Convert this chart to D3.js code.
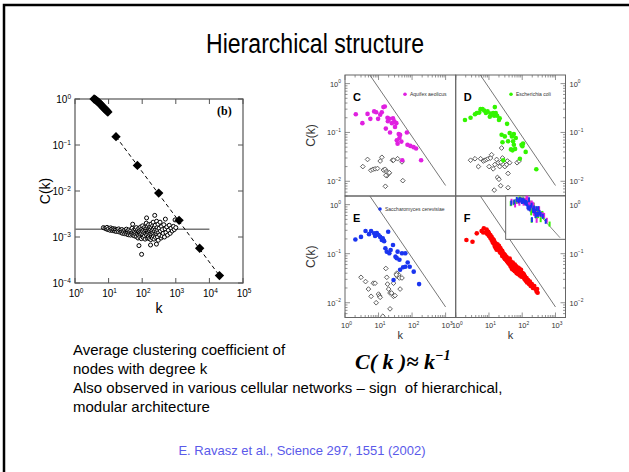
<!DOCTYPE html>
<html>
<head>
<meta charset="utf-8">
<script src="https://cdn.jsdelivr.net/npm/d3@7"></script>
<style>
  html, body { margin: 0; padding: 0; background: #fff; }
  svg { display: block; font-family: 'Liberation Sans', Arial, sans-serif; }
</style>
</head>
<body>
<div class="container"></div>
<script>
// ---- Data ----
const titleText = 'Hierarchical structure';
const bodyLines = [
  'Average clustering coefficient of',
  'nodes with degree k',
  'Also observed in various cellular networks \u2013 sign \u00a0of hierarchical,',
  'modular architecture',
];
const citation = 'E. Ravasz et al., Science 297, 1551 (2002)';

// left plot (b): ticks
const bXTicks = [1, 10, 100, 1000, 10000, 100000];
const bXExps = ['0', '1', '2', '3', '4', '5'];
const bYTicks = [1, 0.1, 0.01, 0.001, 0.0001];
const bYExps = ['0', '-1', '-2', '-3', '-4'];

// hierarchical model: [k, C]
const hierTop = [
  [3.7, 1.0], [4.0, 0.97], [4.3, 0.93], [4.6, 0.89], [5.0, 0.85], [5.4, 0.8],
  [5.8, 0.76], [6.2, 0.72], [6.7, 0.68], [7.2, 0.64], [7.7, 0.61], [8.3, 0.58],
  [8.9, 0.55], [9.5, 0.52],
];
const hierDiamonds = [
  [16.6, 0.152], [72, 0.036], [310, 0.009], [1250, 0.0023], [5130, 0.00057], [19900, 0.000145],
];
const hierFit = [[16.6, 0.152], [19900, 0.000145]];

// scale-free model: [k, C]
const sfCircles = [
  [7, 1.6e-3], [7.8, 1.55e-3], [8.5, 1.5e-3], [9, 1.62e-3], [9.5, 1.45e-3], [10, 1.52e-3],
  [11, 1.4e-3], [11.5, 1.58e-3], [12, 1.47e-3], [13, 1.38e-3], [13.5, 1.52e-3], [14, 1.43e-3],
  [15, 1.35e-3], [15.5, 1.5e-3], [16, 1.42e-3], [17, 1.32e-3], [18, 1.46e-3], [19, 1.37e-3],
  [20, 1.3e-3], [20, 1.5e-3], [22, 1.4e-3], [23, 1.25e-3], [24, 1.33e-3], [25, 1.45e-3],
  [26, 1.2e-3], [27, 1.35e-3], [28, 1.28e-3], [30, 1.4e-3], [30, 1.18e-3], [32, 1.3e-3],
  [33, 1.22e-3], [34, 1.48e-3], [35, 1.15e-3], [36, 1.35e-3], [38, 1.25e-3], [39, 1.12e-3],
  [40, 1.42e-3], [42, 1.2e-3], [43, 1.3e-3], [45, 1.1e-3], [46, 1.38e-3], [48, 1.22e-3],
  [50, 1.15e-3], [50, 1.55e-3], [52, 1.9e-3], [53, 1.28e-3], [55, 1.08e-3], [56, 1.4e-3],
  [58, 1.2e-3], [60, 1.33e-3], [60, 1.05e-3], [62, 1.5e-3], [64, 1.15e-3], [65, 1.25e-3],
  [67, 1.6e-3], [68, 1.02e-3], [70, 1.35e-3], [72, 1.18e-3], [74, 1.45e-3], [75, 0.95e-3],
  [77, 1.28e-3], [79, 1.1e-3], [80, 6.5e-4], [80, 1.55e-3], [82, 1.22e-3], [85, 1.0e-3],
  [86, 1.4e-3], [88, 1.15e-3], [90, 1.65e-3], [92, 1.3e-3], [94, 0.92e-3], [95, 1.2e-3],
  [96, 4.2e-4], [97, 1.48e-3], [100, 1.05e-3], [100, 1.35e-3], [103, 1.75e-3], [105, 1.15e-3],
  [107, 0.98e-3], [110, 1.42e-3], [112, 1.25e-3], [115, 1.6e-3], [117, 1.05e-3], [120, 1.3e-3],
  [122, 0.9e-3], [125, 1.5e-3], [128, 1.18e-3], [130, 1.38e-3], [132, 2.0e-3], [135, 1.1e-3],
  [135, 2.6e-3], [138, 1.55e-3], [140, 0.95e-3], [142, 1.28e-3], [145, 1.7e-3], [148, 1.15e-3],
  [150, 1.4e-3], [152, 1.0e-3], [155, 1.85e-3], [158, 1.25e-3], [160, 1.5e-3], [163, 0.92e-3],
  [165, 1.35e-3], [168, 1.1e-3], [170, 1.65e-3], [175, 1.2e-3], [177, 6.7e-4], [178, 1.45e-3],
  [180, 0.88e-3], [183, 1.9e-3], [185, 1.3e-3], [188, 1.05e-3], [190, 1.6e-3], [195, 1.15e-3],
  [198, 1.4e-3], [200, 0.95e-3], [205, 1.75e-3], [208, 1.25e-3], [212, 2.1e-3], [215, 1.05e-3],
  [218, 1.5e-3], [222, 1.2e-3], [225, 0.9e-3], [230, 1.65e-3], [236, 2.95e-3], [235, 1.35e-3],
  [240, 1.1e-3], [245, 1.8e-3], [250, 0.98e-3], [255, 1.45e-3], [260, 1.2e-3], [265, 7e-4],
  [268, 2.2e-3], [272, 1.3e-3], [278, 1.6e-3], [285, 1.0e-3], [290, 1.4e-3], [295, 1.9e-3],
  [300, 8.5e-4], [310, 1.25e-3], [320, 1.55e-3], [330, 1.1e-3], [340, 2.1e-3], [350, 1.35e-3],
  [365, 0.95e-3], [375, 1.7e-3], [390, 1.05e-3], [400, 1.45e-3], [420, 1.2e-3], [440, 1.85e-3],
  [460, 1.0e-3], [480, 1.5e-3], [490, 2.45e-3], [510, 1.25e-3], [540, 1.65e-3], [570, 1.1e-3],
  [600, 1.4e-3], [640, 1.8e-3], [680, 1.2e-3], [720, 1.55e-3], [780, 1.35e-3], [850, 1.7e-3],
  [900, 1.45e-3], [950, 2.35e-3], [1000, 1.6e-3],
];
const sfLevel = [[1, 1.48e-3], [10000, 1.48e-3]];

// right figure: ticks
const pYTicks = [1, 0.1, 0.01];
const pYExps = ['0', '-1', '-2'];
const pXTicks = [1, 10, 100, 1000];
const pXExps = ['0', '1', '2', '3'];

// metabolic networks: [k, C]
const aquifexPts = [
  [2.1, 0.235], [3.3, 0.155], [4.7, 0.24], [5.7, 0.19], [7.4, 0.27], [8.5, 0.26],
  [9.7, 0.19], [11.2, 0.23], [12.5, 0.26], [14, 0.33], [15.4, 0.34], [16.5, 0.12],
  [18.5, 0.2], [19, 0.17], [21, 0.19], [22, 0.1], [25, 0.155], [27, 0.195],
  [29.5, 0.17], [31, 0.13], [34, 0.155], [35, 0.069], [37, 0.059], [40, 0.093],
  [42, 0.077], [44, 0.089], [48, 0.065], [51, 0.027], [70, 0.1], [73, 0.056],
  [89, 0.053], [111, 0.05], [132, 0.047], [186, 0.027],
];
const aquifexRand = [
  [3.4, 0.02], [4.7, 0.028], [5.9, 0.0168], [6.8, 0.0176], [7.9, 0.018], [9.3, 0.0183],
  [11.2, 0.026], [12.6, 0.031], [14, 0.017], [15.8, 0.0176], [17.3, 0.016], [18, 0.015],
  [17.7, 0.013], [16.6, 0.0133], [20, 0.0144], [21, 0.015], [26, 0.027], [28, 0.027],
  [37, 0.029], [50, 0.025], [53, 0.0103], [16, 0.0079],
];
const ecoliPts = [
  [1.9, 0.18], [2.8, 0.2], [3.8, 0.235], [4.3, 0.25], [5.1, 0.255], [5.6, 0.3],
  [6.4, 0.3], [7.2, 0.28], [8.1, 0.25], [9.1, 0.27], [10.6, 0.21], [11.1, 0.245],
  [12.5, 0.235], [13.4, 0.25], [14.3, 0.22], [15, 0.33], [16, 0.25], [17.6, 0.22],
  [20, 0.18], [21, 0.195], [35, 0.15], [24, 0.09], [25.5, 0.063], [30, 0.083],
  [37.5, 0.066], [42, 0.097], [49, 0.083], [53, 0.066], [56, 0.093], [64, 0.077],
  [61, 0.046], [56, 0.056], [46, 0.045], [51, 0.043], [101, 0.052], [106, 0.059],
  [127, 0.04], [85, 0.029], [265, 0.0176], [95, 0.056], [27, 0.027],
];
const ecoliRand = [
  [2.8, 0.027], [3.8, 0.029], [4.8, 0.02], [5.6, 0.029], [6.8, 0.026], [7.6, 0.027],
  [8.5, 0.028], [9.5, 0.029], [10.1, 0.02], [11.1, 0.03], [12, 0.035], [13.4, 0.018],
  [15, 0.022], [17, 0.028], [19, 0.024], [21, 0.02], [23, 0.0245], [24, 0.048],
  [25.5, 0.03], [27, 0.022], [30, 0.02], [34, 0.022], [36, 0.026], [37.5, 0.0145],
  [42, 0.024], [18, 0.012], [20, 0.011], [22.5, 0.0081], [14.4, 0.0066], [37.5, 0.0074],
  [70, 0.024], [80, 0.026],
];
const yeastPts = [
  [2.04, 0.195], [3.0, 0.22], [4.1, 0.29], [5.2, 0.25], [6, 0.29], [7.4, 0.26],
  [7.9, 0.23], [8.9, 0.265], [10, 0.24], [11.2, 0.22], [12.5, 0.19], [13.4, 0.205],
  [14.7, 0.18], [16, 0.129], [17.6, 0.11], [19.4, 0.28], [21, 0.102], [23, 0.119],
  [27, 0.15], [32, 0.087], [35, 0.081], [37, 0.11], [42, 0.075], [50, 0.102],
  [54, 0.053], [44, 0.047], [63, 0.102], [63, 0.054], [74, 0.066], [85, 0.054],
  [112, 0.043], [28, 0.029], [162, 0.024],
];
const yeastRand = [
  [3.0, 0.033], [4.1, 0.027], [5, 0.019], [6, 0.0135], [7, 0.025], [7.9, 0.025],
  [10, 0.015], [10.6, 0.0138], [11.2, 0.0129], [8.5, 0.01], [16.5, 0.05], [17.6, 0.033],
  [18.5, 0.024], [20, 0.019], [22, 0.0158], [24.5, 0.0158], [28, 0.0135], [31, 0.014],
  [37, 0.034], [40, 0.037], [35, 0.04], [34, 0.037], [42, 0.032], [44, 0.019],
  [22, 0.0075], [13.4, 0.0053], [28, 0.025], [50, 0.032],
];
const averagePts = [
  [2.1, 0.19], [3.2, 0.175], [4.3, 0.26], [6, 0.29], [7.0, 0.33], [6.7, 0.27],
  [8, 0.27], [8.5, 0.31], [9, 0.25], [9.5, 0.28], [10, 0.23], [10, 0.26],
  [11, 0.24], [11, 0.21], [12, 0.22], [12, 0.19], [13, 0.2], [13, 0.17],
  [14, 0.19], [14, 0.16], [15, 0.17], [15, 0.14], [16, 0.16], [16, 0.13],
  [17, 0.15], [17, 0.12], [18, 0.14], [18, 0.155], [19, 0.13], [20, 0.12],
  [20, 0.145], [21, 0.11], [22, 0.13], [22, 0.105], [23, 0.12], [24, 0.1],
  [25, 0.115], [25, 0.09], [26, 0.105], [27, 0.088], [28, 0.1], [29, 0.082],
  [30, 0.095], [30, 0.078], [32, 0.088], [33, 0.074], [34, 0.085], [35, 0.07],
  [36, 0.08], [37, 0.066], [38, 0.078], [40, 0.062], [40, 0.072], [42, 0.08],
  [43, 0.06], [45, 0.07], [45, 0.055], [47, 0.065], [48, 0.052], [50, 0.06],
  [50, 0.048], [52, 0.066], [53, 0.05], [55, 0.058], [56, 0.046], [58, 0.055],
  [60, 0.044], [60, 0.06], [62, 0.05], [65, 0.045], [66, 0.055], [68, 0.04],
  [70, 0.05], [72, 0.042], [74, 0.052], [76, 0.038], [78, 0.046], [80, 0.04],
  [82, 0.05], [85, 0.036], [88, 0.044], [90, 0.039], [92, 0.047], [95, 0.034],
  [98, 0.041], [100, 0.036], [105, 0.04], [110, 0.033], [112, 0.038], [118, 0.03],
  [122, 0.034], [128, 0.028], [135, 0.032], [140, 0.026], [150, 0.029], [160, 0.024],
  [170, 0.027], [180, 0.022], [195, 0.024], [210, 0.02], [230, 0.022], [250, 0.019],
  [270, 0.017], [290, 0.016], [280, 0.019],
];
const guideLine = [[5.5, 1.5], [1000, 0.0082]];
const insetLine = [[8.7, 0.42], [1000, 0.0037]];

// ---- Drawing ----
const W = 629;
const H = 472;

const svg = d3
  .select('.container')
  .append('svg')
  .attr('width', W)
  .attr('height', H);

// slide frame (top and left edges only are visible)
svg
  .append('path')
  .attr('d', `M4,${H} V5 H${W}`)
  .attr('fill', 'none')
  .attr('stroke', '#000')
  .attr('stroke-width', 2.5);

// title
svg
  .append('text')
  .attr('x', 315)
  .attr('y', 53)
  .attr('text-anchor', 'middle')
  .attr('textLength', 218)
  .attr('lengthAdjust', 'spacingAndGlyphs')
  .style('font-size', '27px')
  .text(titleText);

// "10^n" label helper
const powLabel = (g, x, y, exp, size, anchor, color) => {
  const t = g
    .append('text')
    .attr('x', x)
    .attr('y', y)
    .attr('text-anchor', anchor)
    .attr('fill', color)
    .style('font-size', size + 'px');
  t.append('tspan').text('10');
  t.append('tspan')
    .attr('dy', -size * 0.45)
    .style('font-size', size * 0.65 + 'px')
    .text(exp.replace('-', '\u2212'));
  return t;
};

const isMajor = (v) => Math.abs(Math.log10(v) - Math.round(Math.log10(v))) < 1e-6;

// ---------- left plot (b) ----------
const bx = d3.scaleLog().domain([1, 1e5]).range([75, 243]);
const by = d3.scaleLog().domain([1e-4, 1]).range([283, 99]);
const gb = svg.append('g');

gb.append('rect')
  .attr('x', bx.range()[0])
  .attr('y', by.range()[1])
  .attr('width', bx.range()[1] - bx.range()[0])
  .attr('height', by.range()[0] - by.range()[1])
  .attr('fill', 'none')
  .attr('stroke', '#555')
  .attr('stroke-width', 1.2);

// inward ticks on all four sides
bXTicks.forEach((v) => {
  gb.append('line').attr('x1', bx(v)).attr('x2', bx(v))
    .attr('y1', by.range()[0]).attr('y2', by.range()[0] - 5).attr('stroke', '#555');
  gb.append('line').attr('x1', bx(v)).attr('x2', bx(v))
    .attr('y1', by.range()[1]).attr('y2', by.range()[1] + 5).attr('stroke', '#555');
});
bYTicks.forEach((v) => {
  gb.append('line').attr('x1', bx.range()[0]).attr('x2', bx.range()[0] + 5)
    .attr('y1', by(v)).attr('y2', by(v)).attr('stroke', '#555');
  gb.append('line').attr('x1', bx.range()[1]).attr('x2', bx.range()[1] - 5)
    .attr('y1', by(v)).attr('y2', by(v)).attr('stroke', '#555');
});

bXTicks.forEach((v, i) => powLabel(gb, bx(v) + 1, 297, bXExps[i], 10, 'middle', '#000'));
bYTicks.forEach((v, i) => powLabel(gb, 71, by(v) + 4, bYExps[i], 10, 'end', '#000'));

gb.append('text')
  .attr('transform', `translate(50, ${(by.range()[0] + by.range()[1]) / 2}) rotate(-90)`)
  .attr('text-anchor', 'middle')
  .style('font-size', '14px')
  .text('C(k)');
gb.append('text')
  .attr('x', (bx.range()[0] + bx.range()[1]) / 2)
  .attr('y', 313)
  .attr('text-anchor', 'middle')
  .style('font-size', '14px')
  .text('k');
gb.append('text')
  .attr('x', 217)
  .attr('y', 115)
  .style('font-family', "'Liberation Serif', serif")
  .style('font-weight', 'bold')
  .style('font-size', '12px')
  .text('(b)');

const bLine = d3.line().x((d) => bx(d[0])).y((d) => by(d[1]));

gb.append('path')
  .datum(sfLevel)
  .attr('d', bLine)
  .attr('stroke', '#777')
  .attr('stroke-width', 1.5)
  .attr('fill', 'none');

gb.selectAll('.sf')
  .data(sfCircles)
  .enter()
  .append('circle')
  .attr('class', 'sf')
  .attr('cx', (d) => bx(d[0]))
  .attr('cy', (d) => by(d[1]))
  .attr('r', 2)
  .attr('fill', '#fff')
  .attr('stroke', '#000')
  .attr('stroke-width', 1);

gb.append('path')
  .datum(hierFit)
  .attr('d', bLine)
  .attr('stroke', '#000')
  .attr('stroke-width', 1)
  .attr('stroke-dasharray', '4,3')
  .attr('fill', 'none');

const bigDiamond = d3.symbol(d3.symbolSquare, 44);
gb.selectAll('.hd')
  .data(hierTop.concat(hierDiamonds))
  .enter()
  .append('path')
  .attr('class', 'hd')
  .attr('d', bigDiamond)
  .attr('transform', (d) => `translate(${bx(d[0])}, ${by(d[1])}) rotate(45)`)
  .attr('fill', '#000');

// ---------- right figure (C-F) ----------
const colX = [[345, 455.7], [455.7, 565.5]];
const rowY = [[75, 196], [196, 317.5]];

const panels = [
  { letter: 'C', col: 0, row: 0, pts: aquifexPts, rnd: aquifexRand, color: '#e020e0', name: 'Aquifex aeolicus' },
  { letter: 'D', col: 1, row: 0, pts: ecoliPts, rnd: ecoliRand, color: '#33f500', name: 'Escherichia coli' },
  { letter: 'E', col: 0, row: 1, pts: yeastPts, rnd: yeastRand, color: '#1a35f0', name: 'Saccharomyces cerevisiae' },
  { letter: 'F', col: 1, row: 1, pts: averagePts, rnd: [], color: '#ff0000', name: '' },
];

const gr = svg.append('g');
const defs = svg.append('defs');
const smallDiamond = d3.symbol(d3.symbolSquare, 11);

panels.forEach((p, i) => {
  const px = d3.scaleLog().domain([1, 2000]).range(colX[p.col]);
  const py = d3.scaleLog().domain([0.005, 1.5]).range([rowY[p.row][1], rowY[p.row][0]]);
  const [x0, x1] = px.range();
  const [y1, y0] = py.range();

  defs.append('clipPath').attr('id', `clip${i}`)
    .append('rect').attr('x', x0).attr('y', y0).attr('width', x1 - x0).attr('height', y1 - y0);

  const g = gr.append('g');
  const inner = g.append('g').attr('clip-path', `url(#clip${i})`);
  const line = d3.line().x((d) => px(d[0])).y((d) => py(d[1]));

  inner.append('path')
    .datum(guideLine)
    .attr('d', line)
    .attr('stroke', '#777')
    .attr('stroke-width', 1)
    .attr('fill', 'none');

  inner.selectAll('.rnd')
    .data(p.rnd)
    .enter()
    .append('path')
    .attr('class', 'rnd')
    .attr('d', smallDiamond)
    .attr('transform', (d) => `translate(${px(d[0])}, ${py(d[1])}) rotate(45)`)
    .attr('fill', '#fff')
    .attr('stroke', '#444')
    .attr('stroke-width', 0.8);

  inner.selectAll('.pt')
    .data(p.pts)
    .enter()
    .append('circle')
    .attr('class', 'pt')
    .attr('cx', (d) => px(d[0]))
    .attr('cy', (d) => py(d[1]))
    .attr('r', 2.3)
    .attr('fill', p.color);

  // frame
  g.append('rect')
    .attr('x', x0).attr('y', y0).attr('width', x1 - x0).attr('height', y1 - y0)
    .attr('fill', 'none').attr('stroke', '#666').attr('stroke-width', 1);

  // ticks on the outer edges
  const xEdge = p.row === 0 ? y0 : y1;
  const xDir = p.row === 0 ? 1 : -1;
  px.ticks().forEach((v) => {
    g.append('line').attr('x1', px(v)).attr('x2', px(v))
      .attr('y1', xEdge).attr('y2', xEdge + xDir * (isMajor(v) ? 5 : 2.5))
      .attr('stroke', '#666').attr('stroke-width', 0.7);
  });
  const yEdge = p.col === 0 ? x0 : x1;
  const yDir = p.col === 0 ? 1 : -1;
  py.ticks().forEach((v) => {
    g.append('line').attr('x1', yEdge).attr('x2', yEdge + yDir * (isMajor(v) ? 5 : 2.5))
      .attr('y1', py(v)).attr('y2', py(v))
      .attr('stroke', '#666').attr('stroke-width', 0.7);
  });

  // tick labels
  pYTicks.forEach((v, j) => {
    if (p.col === 0) powLabel(g, x0 - 4, py(v) + 3, pYExps[j], 7.5, 'end', '#333');
    else powLabel(g, x1 + 4, py(v) + 3, pYExps[j], 7.5, 'start', '#333');
  });
  if (p.row === 1) {
    pXTicks.forEach((v, j) => powLabel(g, px(v) + 1.5, 328, pXExps[j], 7.5, 'middle', '#333'));
    g.append('text')
      .attr('x', (x0 + x1) / 2)
      .attr('y', 339)
      .attr('text-anchor', 'middle')
      .style('font-size', '11px')
      .attr('fill', '#333')
      .text('k');
  }
  if (p.col === 0) {
    g.append('text')
      .attr('transform', `translate(315, ${(y0 + y1) / 2}) rotate(-90)`)
      .attr('text-anchor', 'middle')
      .style('font-size', '12px')
      .attr('fill', '#333')
      .text('C(k)');
  }

  // panel letter
  g.append('text')
    .attr('x', x0 + 8)
    .attr('y', y0 + 25.5)
    .style('font-size', '11px')
    .style('font-weight', 'bold')
    .text(p.letter);

  // legend
  if (p.name) {
    const lx = p.col === 0 ? (p.row === 0 ? 405 : 380) : 511;
    const ly = p.row === 0 ? 94.3 : 209;
    g.append('circle').attr('cx', lx).attr('cy', ly).attr('r', 1.8).attr('fill', p.color);
    g.append('text')
      .attr('x', lx + 5)
      .attr('y', ly + 1.8)
      .style('font-size', '5px')
      .attr('fill', '#333')
      .text(p.name);
  }

  // inset of panel F: all three networks together
  if (p.letter === 'F') {
    const ix = d3.scaleLog().domain([1, 2000]).range([505.7, 565.5]);
    const iy = d3.scaleLog().domain([0.0031, 0.43]).range([239.3, 196]);
    const gi = g.append('g');
    gi.append('rect')
      .attr('x', 505.7).attr('y', 196).attr('width', 565.5 - 505.7).attr('height', 239.3 - 196)
      .attr('fill', '#fff').attr('stroke', '#555').attr('stroke-width', 0.9);
    gi.append('path')
      .datum(insetLine)
      .attr('d', d3.line().x((d) => ix(d[0])).y((d) => iy(d[1])))
      .attr('stroke', '#777')
      .attr('stroke-width', 0.9)
      .attr('fill', 'none');
    [[ecoliPts, '#33f500'], [aquifexPts, '#e020e0'], [yeastPts, '#1a35f0']].forEach(([pts, c]) => {
      gi.selectAll(null)
        .data(pts)
        .enter()
        .append('rect')
        .attr('x', (d) => ix(d[0]) - 1)
        .attr('y', (d) => iy(d[1]) - 2.5)
        .attr('width', 2)
        .attr('height', 5)
        .attr('fill', c);
    });
  }
});

// ---------- text block ----------
const gt = svg.append('g').style('font-size', '15px');
bodyLines.forEach((t, i) => {
  gt.append('text').attr('x', 73).attr('y', 355 + i * 19).text(t);
});

const formula = svg
  .append('text')
  .attr('x', 355)
  .attr('y', 369)
  .style('font-family', "'Liberation Serif', 'Times New Roman', serif")
  .style('font-weight', 'bold')
  .style('font-style', 'italic')
  .style('font-size', '22px');
formula.append('tspan').text('C( k )\u2248 k');
formula.append('tspan').attr('dy', -9).style('font-size', '14px').text('\u22121');

svg
  .append('text')
  .attr('x', 302)
  .attr('y', 455)
  .attr('text-anchor', 'middle')
  .attr('fill', '#5a5aea')
  .style('font-size', '13px')
  .text(citation);
</script>
</body>
</html>
